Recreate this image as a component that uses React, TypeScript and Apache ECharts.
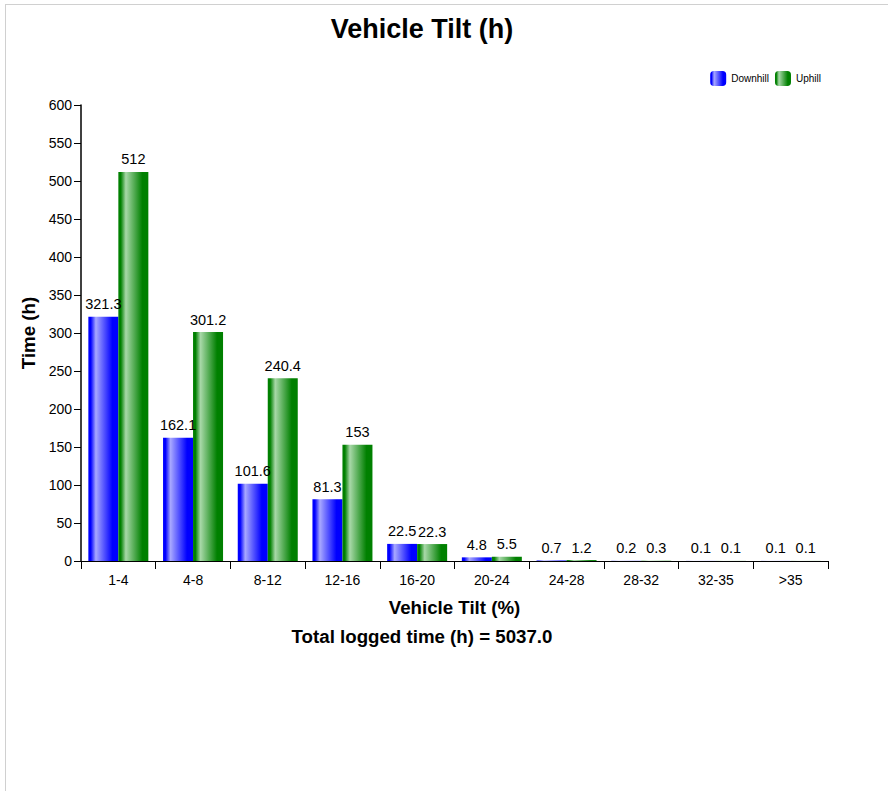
import React, { useEffect, useRef } from "react";
import * as echarts from "echarts";

const categories = ["1-4", "4-8", "8-12", "12-16", "16-20", "20-24", "24-28", "28-32", "32-35", ">35"];
const downhill = [321.3, 162.1, 101.6, 81.3, 22.5, 4.8, 0.7, 0.2, 0.1, 0.1];
const uphill = [512, 301.2, 240.4, 153, 22.3, 5.5, 1.2, 0.3, 0.1, 0.1];
const titleText = "Vehicle Tilt (h)";
const totalText = "Total logged time (h) = 5037.0";

const FONT = "'Liberation Sans', Arial, sans-serif";

function grad(dark: string, light: string) {
  return new echarts.graphic.LinearGradient(0, 0, 1, 0, [
    { offset: 0, color: dark },
    { offset: 0.08, color: dark },
    { offset: 0.25, color: light },
    { offset: 0.8, color: dark },
    { offset: 1, color: dark },
  ]);
}

export default function App() {
  const ref = useRef<HTMLDivElement>(null);
  useEffect(() => {
    document.body.style.margin = "0";
    document.body.style.overflow = "hidden";
    const chart = echarts.init(ref.current!, undefined, { renderer: "svg" });
    chart.setOption({
      animation: false,
      textStyle: { fontFamily: FONT },
      graphic: [
        {
          type: "text",
          x: 422,
          y: 29,
          style: {
            text: titleText,
            align: "center",
            verticalAlign: "middle",
            font: "bold 27px " + FONT,
            fill: "#000",
          },
        },
        {
          type: "text",
          x: 422,
          y: 636,
          style: {
            text: totalText,
            align: "center",
            verticalAlign: "middle",
            font: "bold 18.7px " + FONT,
            fill: "#000",
          },
        },
      ],
      legend: {
        right: 62,
        top: 66,
        itemWidth: 16,
        itemHeight: 15,
        itemGap: 6,
        icon: "roundRect",
        textStyle: { fontSize: 10, color: "#000", fontFamily: FONT },
        data: ["Downhill", "Uphill"],
      },
      grid: { left: 81, right: 60, top: 105, bottom: 230, containLabel: false },
      xAxis: {
        type: "category",
        data: categories,
        name: "Vehicle Tilt (%)",
        nameLocation: "middle",
        nameGap: 37,
        nameTextStyle: { fontSize: 18.7, fontWeight: "bold", color: "#000", fontFamily: FONT },
        axisLine: { lineStyle: { color: "#000", width: 1 } },
        axisTick: { show: true, alignWithLabel: false, length: 8, lineStyle: { color: "#000" } },
        axisLabel: { fontSize: 14, color: "#000", margin: 12, fontFamily: FONT },
      },
      yAxis: {
        type: "value",
        min: 0,
        max: 600,
        interval: 50,
        name: "Time (h)",
        nameLocation: "middle",
        nameGap: 42,
        nameTextStyle: { fontSize: 18.7, fontWeight: "bold", color: "#000", fontFamily: FONT },
        axisLine: { show: true, lineStyle: { color: "#000", width: 1.5 } },
        axisTick: { show: true, length: 7, lineStyle: { color: "#000" } },
        axisLabel: { fontSize: 14, color: "#000", margin: 9, fontFamily: FONT },
        splitLine: { show: false },
      },
      series: [
        {
          name: "Downhill",
          type: "bar",
          data: downhill,
          barWidth: 30,
          barGap: "0%",
          itemStyle: { color: grad("#0000ff", "#a8a8ff") },
          label: { show: true, position: "top", fontSize: 14.5, color: "#000", distance: 5, fontFamily: FONT },
        },
        {
          name: "Uphill",
          type: "bar",
          data: uphill,
          barWidth: 30,
          barGap: "0%",
          itemStyle: { color: grad("#008000", "#a8d8a8") },
          label: { show: true, position: "top", fontSize: 14.5, color: "#000", distance: 5, fontFamily: FONT },
        },
      ],
    });
    return () => chart.dispose();
  }, []);
  return (
    <div style={{ position: "relative", width: 888, height: 791, background: "#fff" }}>
      <div
        style={{
          position: "absolute",
          left: 5,
          top: 4,
          width: 900,
          height: 800,
          border: "1px solid #d0d0d0",
          boxSizing: "border-box",
        }}
      />
      <div ref={ref} style={{ position: "absolute", left: 0, top: 0, width: 888, height: 791 }} />
    </div>
  );
}
